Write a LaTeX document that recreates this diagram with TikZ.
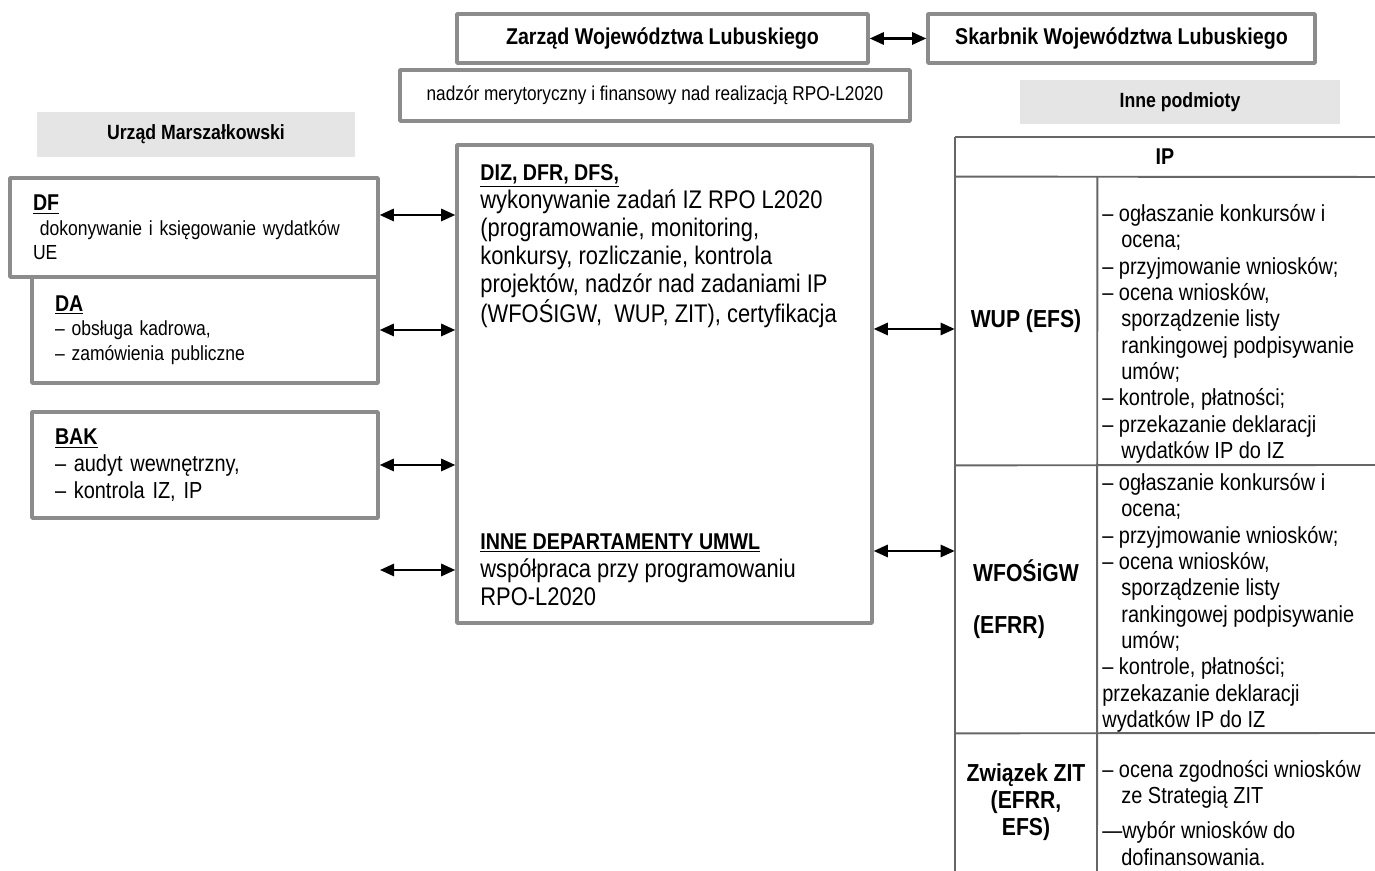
\documentclass[tikz,border=0pt]{standalone}
\usepackage{fontspec}
\setmainfont{Liberation Sans}[FakeStretch=0.86]
\usetikzlibrary{arrows.meta}
\definecolor{ramkowy}{gray}{0.55}
\definecolor{siatkowy}{gray}{0.4}
\definecolor{tlowy}{gray}{0.9}
\newcommand{\rozmiar}[2]{\fontsize{#1}{#2}\selectfont}
\newcommand{\tytul}[1]{{\rozmiar{13}{15}\bfseries\underline{#1}}}
\newcommand{\wc}{\hspace*{0.38cm}}
\begin{document}
\begin{tikzpicture}[>={Triangle[length=8pt,width=7pt]}, line join=round,
	ramka/.style={draw=ramkowy, line width=2pt, fill=white, inner sep=0pt},
	szare/.style={fill=tlowy, inner sep=0pt, font=\rozmiar{11.7}{14}\bfseries},
	dzial/.style={ramka, inner xsep=0.46cm, align=left, font=\rozmiar{11.6}{14}},
	opis/.style={anchor=north west, inner sep=0pt, align=left},
	komorka/.style={inner sep=0pt, minimum width=2.84cm, font=\rozmiar{14}{15.5}\bfseries},
	siatka/.style={draw=siatkowy, line width=1.1pt},
	link/.style={<->, line width=1.2pt}]
	\useasboundingbox (0,0) rectangle (27.5,17.42);
	\node[ramka, minimum width=8.22cm, minimum height=0.98cm, font=\rozmiar{13}{15}\bfseries] (zarzad) at (13.25,16.65) {Zarząd Województwa Lubuskiego};
	\node[ramka, minimum width=7.74cm, minimum height=0.98cm, font=\rozmiar{13}{15}\bfseries] (skarbnik) at (22.43,16.65) {Skarbnik Województwa Lubuskiego};
	\node[ramka, minimum width=10.2cm, minimum height=1.02cm, font=\rozmiar{11.4}{13}] (nadzor) at (13.10,15.51) {nadzór merytoryczny i finansowy nad realizacją RPO-L2020};
	\node[szare, minimum width=6.36cm, minimum height=0.9cm] (urzad) at (3.92,14.73) {Urząd Marszałkowski};
	\node[szare, minimum width=6.4cm, minimum height=0.88cm] (podmioty) at (23.6,15.38) {Inne podmioty};
	\node[dzial, text width=6.44cm, minimum width=7.36cm, minimum height=1.98cm] (df) at (3.88,12.87) {\tytul{DF}\\
		\makebox[6.44cm][s]{\ dokonywanie i księgowanie wydatków}\\
		UE};
	\node[dzial, text width=6cm, minimum width=6.92cm, minimum height=2.12cm] (da) at (4.10,10.82) {\tytul{DA}\\
		– obsługa kadrowa,\\
		– zamówienia publiczne};
	\node[dzial, text width=6cm, minimum width=6.92cm, minimum height=2.12cm, font=\rozmiar{13.2}{15.3}] (bak) at (4.10,8.12) {\tytul{BAK}\\
		– audyt wewnętrzny,\\
		– kontrola IZ, IP};
	\node[ramka, minimum width=8.3cm, minimum height=9.56cm] (diz) at (13.29,9.74) {};
	\node[opis, font=\rozmiar{14.5}{16}] (zadania) at (9.6,14.14) {\tytul{DIZ, DFR, DFS,}\\
		wykonywanie zadań IZ RPO L2020\\
		(programowanie, monitoring,\\
		konkursy, rozliczanie, kontrola\\
		projektów, nadzór nad zadaniami IP\\
		(WFOŚIGW,~ WUP, ZIT), certyfikacja};
	\node[opis, font=\rozmiar{14.5}{16}] (wspolpraca) at (9.6,6.76) {\tytul{INNE DEPARTAMENTY UMWL}\\
		współpraca przy programowaniu\\
		RPO-L2020};
	\node[inner sep=0pt, font=\rozmiar{13}{15}\bfseries] (ip) at (23.3,14.28) {IP};
	\node[komorka, minimum height=5.76cm] (wup) at (20.52,11.0) {WUP (EFS)};
	\node[komorka, minimum height=5.36cm, align=left] (wfos) at (20.52,5.44) {WFOŚiGW\\[14pt](EFRR)};
	\node[komorka, minimum height=2.76cm, align=center] (zit) at (20.52,1.38) {Związek ZIT\\(EFRR,\\EFS)};
	\node[opis, font=\rozmiar{13.2}{15}] (wupzad) at (22.04,13.34) {– ogłaszanie konkursów i\\
		\wc ocena;\\
		– przyjmowanie wniosków;\\
		– ocena wniosków,\\
		\wc sporządzenie listy\\
		\wc rankingowej podpisywanie\\
		\wc umów;\\
		– kontrole, płatności;\\
		– przekazanie deklaracji\\
		\wc wydatków IP do IZ};
	\node[opis, font=\rozmiar{13.2}{15}] (wfoszad) at (22.04,7.96) {– ogłaszanie konkursów i\\
		\wc ocena;\\
		– przyjmowanie wniosków;\\
		– ocena wniosków,\\
		\wc sporządzenie listy\\
		\wc rankingowej podpisywanie\\
		\wc umów;\\
		– kontrole, płatności;\\
		przekazanie deklaracji\\
		wydatków IP do IZ};
	\node[opis, font=\rozmiar{13.2}{15}] (zitzad) at (22.04,2.22) {– ocena zgodności wniosków\\
		\wc ze Strategią ZIT\\[5pt]
		—wybór wniosków do\\
		\wc dofinansowania.};
	\draw[siatka] (19.10,14.68) -- (27.5,14.68);
	\draw[siatka] (wup.north west) -- (27.5,13.88);
	\draw[siatka] (wup.south west) -- (27.5,8.12);
	\draw[siatka] (wfos.south west) -- (27.5,2.76);
	\draw[siatka] (19.10,14.68) -- (19.10,0);
	\draw[siatka] (wup.north east) -- (21.94,0);
	\coordinate (wolny) at (7.6,6.02);
	\draw[link] (zarzad.east) -- (skarbnik.west);
	\draw[link] (df.east |- 0,13.12) -- (diz.west |- 0,13.12);
	\draw[link] (da.east) -- (da.east -| diz.west);
	\draw[link] (bak.east) -- (bak.east -| diz.west);
	\draw[link] (wolny) -- (wolny -| diz.west);
	\draw[link] (diz.east |- 0,10.84) -- (wup.west |- 0,10.84);
	\draw[link] (diz.east |- 0,6.40) -- (wfos.west |- 0,6.40);
\end{tikzpicture}
\end{document}
